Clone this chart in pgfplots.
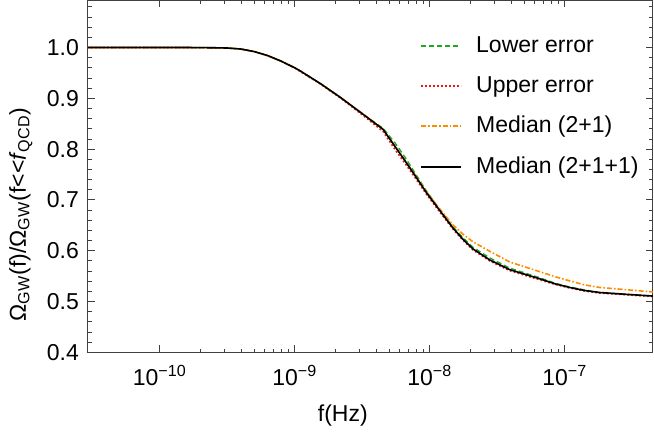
\documentclass[border=0pt]{standalone}
\usepackage{fontspec}
\setmainfont{Liberation Sans}
\usepackage{pgfplots}
\pgfplotsset{compat=1.18}
\usepackage{pgfplotstable}
\usetikzlibrary{calc}

\definecolor{cgreen}{RGB}{30,170,30}
\definecolor{cred}{RGB}{240,20,20}
\definecolor{corange}{RGB}{255,140,0}

% f (Hz)   Omega ratio
\pgfplotstableread{
f y
2.512e-11 1.000
1.585e-10 1.000
2.512e-10 0.9995
3.162e-10 0.999
3.981e-10 0.997
5.012e-10 0.992
6.310e-10 0.984
7.943e-10 0.973
1.000e-9 0.960
1.096e-9 0.954
1.549e-9 0.929
2.173e-9 0.902
3.048e-9 0.873
4.508e-9 0.839
5.534e-9 0.805
6.561e-9 0.777
7.780e-9 0.748
9.528e-9 0.713
1.189e-8 0.679
1.483e-8 0.645
1.758e-8 0.623
2.084e-8 0.604
2.786e-8 0.582
3.908e-8 0.563
6.516e-8 0.545
8.500e-8 0.535
1.084e-7 0.528
1.400e-7 0.522
1.807e-7 0.518
3.013e-7 0.514
4.529e-7 0.511
}\medfour

\pgfplotstableread{
f y
2.512e-11 1.000
1.585e-10 1.000
2.512e-10 0.9995
3.162e-10 0.999
3.981e-10 0.997
5.012e-10 0.992
6.310e-10 0.984
7.943e-10 0.973
1.000e-9 0.960
1.096e-9 0.954
1.549e-9 0.929
2.173e-9 0.902
3.048e-9 0.873
4.508e-9 0.841
5.534e-9 0.812
6.561e-9 0.784
7.780e-9 0.753
9.528e-9 0.716
1.189e-8 0.681
1.483e-8 0.647
1.758e-8 0.626
2.084e-8 0.607
2.786e-8 0.586
3.908e-8 0.566
6.516e-8 0.547
8.500e-8 0.536
1.084e-7 0.529
1.400e-7 0.523
1.807e-7 0.518
3.013e-7 0.514
4.529e-7 0.511
}\lowerr

\pgfplotstableread{
f y
2.512e-11 1.000
1.585e-10 1.000
2.512e-10 0.9995
3.162e-10 0.999
3.981e-10 0.997
5.012e-10 0.992
6.310e-10 0.984
7.943e-10 0.973
1.000e-9 0.960
1.096e-9 0.953
1.549e-9 0.928
2.173e-9 0.901
3.048e-9 0.871
4.508e-9 0.835
5.534e-9 0.799
6.561e-9 0.772
7.780e-9 0.744
9.528e-9 0.710
1.189e-8 0.676
1.483e-8 0.643
1.758e-8 0.621
2.084e-8 0.602
2.786e-8 0.580
3.908e-8 0.561
6.516e-8 0.543
8.500e-8 0.534
1.084e-7 0.527
1.400e-7 0.521
1.807e-7 0.517
3.013e-7 0.513
4.529e-7 0.510
}\upperr

\pgfplotstableread{
f y
2.512e-11 1.000
1.585e-10 1.000
2.512e-10 0.9995
3.162e-10 0.999
3.981e-10 0.997
5.012e-10 0.992
6.310e-10 0.984
7.943e-10 0.973
1.000e-9 0.960
1.096e-9 0.954
1.549e-9 0.929
2.173e-9 0.902
3.048e-9 0.873
4.508e-9 0.839
5.534e-9 0.806
6.561e-9 0.778
7.780e-9 0.749
9.528e-9 0.715
1.189e-8 0.682
1.483e-8 0.651
1.758e-8 0.633
2.084e-8 0.618
2.786e-8 0.599
3.908e-8 0.578
6.516e-8 0.559
8.500e-8 0.549
1.084e-7 0.541
1.400e-7 0.533
1.807e-7 0.528
3.013e-7 0.523
4.529e-7 0.519
}\medthree

\begin{document}
\begin{tikzpicture}
\begin{axis}[
name=ax,
scale only axis,
width=282.5pt, height=176pt,
xmode=log,
xmin=2.94e-11, xmax=4.5e-7,
ymin=0.4, ymax=1.0925,
font=\fontsize{11.5}{13}\selectfont,
axis line style={black!75, line width=0.5pt},
tick style={black!75, line width=0.5pt},
tick align=inside,
xtick pos=both, ytick pos=both,
xticklabel pos=lower, yticklabel pos=left,
major tick length=3.5pt, minor tick length=1.8pt,
xtick={1e-10,1e-9,1e-8,1e-7},
xticklabels={10\textsuperscript{−10},10\textsuperscript{−9},10\textsuperscript{−8},10\textsuperscript{−7}},
ytick={0.4,0.5,0.6,0.7,0.8,0.9,1.0},
yticklabels={0.4,0.5,0.6,0.7,0.8,0.9,1.0},
minor ytick={0.42,0.44,0.46,0.48,0.52,0.54,0.56,0.58,0.62,0.64,0.66,0.68,0.72,0.74,0.76,0.78,0.82,0.84,0.86,0.88,0.92,0.94,0.96,0.98,1.02,1.04,1.06,1.08},
xticklabel style={yshift=-3pt},
yticklabel style={xshift=-1pt},
xlabel={f(Hz)},
xlabel style={at={(axis description cs:0.451,-0.179)}, anchor=center},
ylabel={Ω\textsubscript{GW}(f)/Ω\textsubscript{GW}(f<{}<\textit{f}\textsubscript{QCD})},
ylabel style={at={(axis description cs:-0.119,0.392)}, anchor=center},
legend style={draw=none, fill=none, inner sep=0pt,
  at={(axis description cs:0.588,0.91)}, anchor=north west,
  row sep=6.5pt, column sep=5pt, font=\fontsize{11.5}{13}\selectfont},
legend cell align=left,
legend image code/.code={\draw[#1] (0pt,0pt) -- (20pt,0pt);},
]
\addplot[cgreen, line width=0.7pt, dash pattern=on 2.5pt off 1.5pt] table[x=f,y=y] {\lowerr};
\addplot[cred, line width=0.8pt, dash pattern=on 0.9pt off 1.1pt] table[x=f,y=y] {\upperr};
\addplot[corange, line width=0.8pt, dash pattern=on 2.5pt off 1pt on 0.8pt off 1pt] table[x=f,y=y] {\medthree};
\addplot[black, line width=0.8pt] table[x=f,y=y] {\medfour};
\legend{Lower error, Upper error, Median (2+1), Median (2+1+1)}
\end{axis}
\path ($(ax.south west)+(-44pt,-40pt)$) rectangle ($(ax.north east)+(0.5pt,0pt)$);
\end{tikzpicture}
\end{document}
